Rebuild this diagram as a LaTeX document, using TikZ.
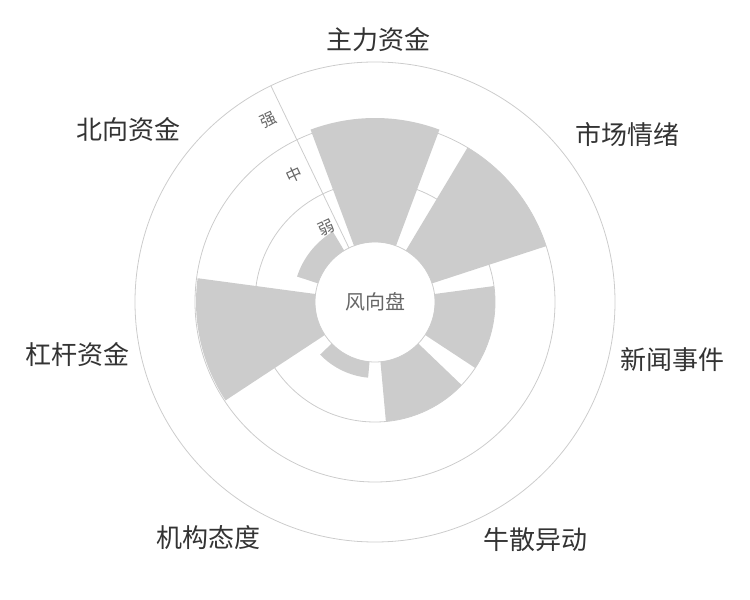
\documentclass[tikz,border=0pt]{standalone}
\usepackage{fontspec}
\setmainfont{Noto Sans CJK SC}
\begin{document}
\begin{tikzpicture}[x=1pt,y=1pt,
  grid/.style={draw=black!20,line width=0.8pt},
  bar/.style={fill=black!20},
  cat/.style={text=black!80,font=\fontsize{26}{26}\selectfont},
  tick/.style={text=black!60,font=\fontsize{16}{16}\selectfont,rotate=25}]
\useasboundingbox (0,0) rectangle (750,600);
\coordinate (c) at (375,298);
\begin{scope}[shift={(c)}]
\foreach \r in {120,180,240} \draw[grid] (0,0) circle[radius=\r];
\foreach \b/\rr in {0/184,51.43/180,102.86/120,154.29/120,205.71/76,257.14/179,308.57/82}{
  \pgfmathsetmacro{\a}{90-\b+20.5}
  \pgfmathsetmacro{\e}{90-\b-20.5}
  \fill[bar] (\a:60) arc[start angle=\a,end angle=\e,radius=60] -- (\e:\rr) arc[start angle=\e,end angle=\a,radius=\rr] -- cycle;
}
\draw[grid] (115.71:60) -- (115.71:240);
\node[tick] (w) at (123.5:89) {弱};
\node[tick] (m) at (122.5:151) {中};
\node[tick] (s) at (120.5:211) {强};
\draw[grid] (0,0) circle[radius=60];
\node[text=black!60,font=\fontsize{20}{20}\selectfont] (ctr) at (0,0) {风向盘};
\end{scope}
\node[cat] (l1) at (378,560) {主力资金};
\node[cat] (l2) at (627,465) {市场情绪};
\node[cat] (l3) at (672,240) {新闻事件};
\node[cat] (l4) at (535,60) {牛散异动};
\node[cat] (l5) at (208,62) {机构态度};
\node[cat] (l6) at (77,245) {杠杆资金};
\node[cat] (l7) at (128,470) {北向资金};
\end{tikzpicture}
\end{document}
